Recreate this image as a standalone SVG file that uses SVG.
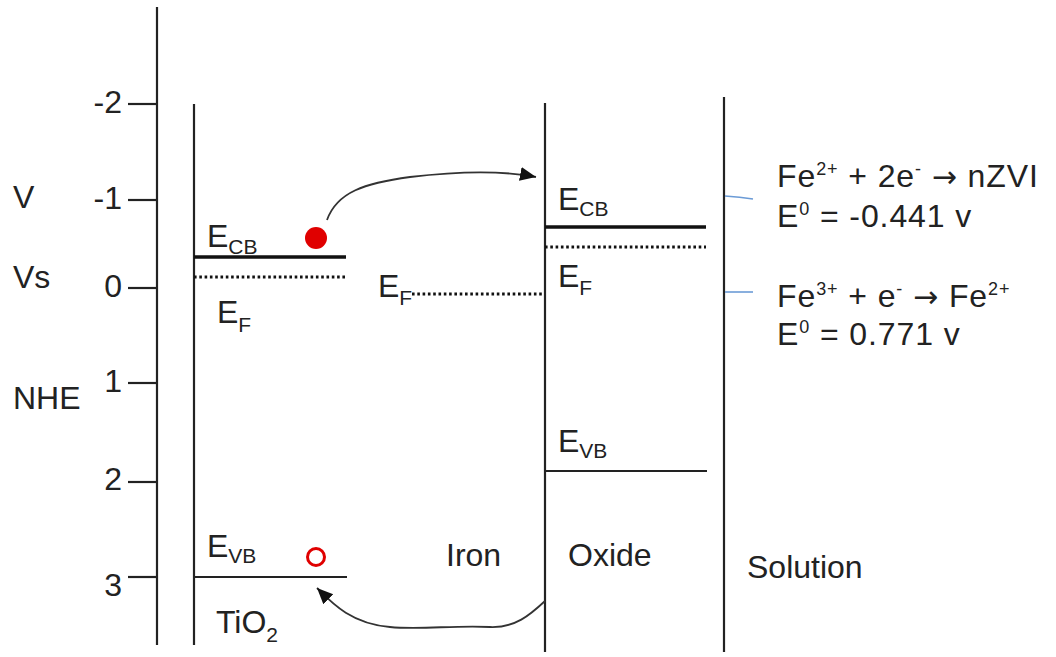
<svg xmlns="http://www.w3.org/2000/svg" width="1056" height="657" viewBox="0 0 1056 657">
<defs>
<style>
.t{font-family:"Liberation Sans",Arial,sans-serif;font-size:32px;fill:#222}
.eq{letter-spacing:0.9px}
.sub{font-size:21px}
.sup{font-size:18px}
.ar{font-family:"DejaVu Sans",sans-serif;font-size:30px}
.ln{stroke:#222;stroke-width:2.2;fill:none}
.band{stroke:#111;stroke-width:3.5;fill:none}
.dot{stroke:#111;stroke-width:3;stroke-dasharray:2.6 2.7;fill:none}
.blue{stroke:#6b9bd6;stroke-width:1.6;fill:none}
.arr{stroke:#333;stroke-width:1.8;fill:none;marker-end:url(#ah)}
</style>
<marker id="ah" markerUnits="userSpaceOnUse" markerWidth="18" markerHeight="16" refX="16" refY="7" orient="auto">
<path d="M0,0 L16,7 L0,14 z" fill="#111"/>
</marker>
</defs>
<rect width="1056" height="657" fill="#fff"/>
<g id="axis">
<line class="ln" x1="157" y1="7" x2="157" y2="645"/>
<line class="ln" x1="128" y1="104" x2="157" y2="104"/>
<line class="ln" x1="128" y1="200" x2="157" y2="200"/>
<line class="ln" x1="128" y1="288" x2="157" y2="288"/>
<line class="ln" x1="128" y1="383" x2="157" y2="383"/>
<line class="ln" x1="128" y1="482" x2="157" y2="482"/>
<line class="ln" x1="128" y1="577" x2="157" y2="577"/>
<text class="t" x="122" y="113" text-anchor="end">-2</text>
<text class="t" x="122" y="209" text-anchor="end">-1</text>
<text class="t" x="122" y="297" text-anchor="end">0</text>
<text class="t" x="122" y="392" text-anchor="end">1</text>
<text class="t" x="122" y="490" text-anchor="end">2</text>
<text class="t" x="122" y="596" text-anchor="end">3</text>
<text class="t" x="13" y="208">V</text>
<text class="t" x="13" y="288">Vs</text>
<text class="t" x="13" y="409">NHE</text>
</g>
<g id="tio2">
<line class="ln" x1="194" y1="104" x2="194" y2="645"/>
<line class="band" x1="194" y1="257" x2="346" y2="257"/>
<line class="dot" x1="194" y1="277" x2="346" y2="277"/>
<line class="ln" x1="194" y1="577" x2="347" y2="577"/>
<circle cx="316" cy="238" r="11" fill="#e00000"/>
<circle cx="316" cy="557" r="8.5" fill="none" stroke="#e00000" stroke-width="3"/>
<text class="t" x="207" y="247">E<tspan class="sub" dy="7">CB</tspan></text>
<text class="t" x="217" y="323">E<tspan class="sub" dy="9">F</tspan></text>
<text class="t" x="207" y="557">E<tspan class="sub" dy="6">VB</tspan></text>
<text class="t" x="216" y="633">TiO<tspan class="sub" dy="9">2</tspan></text>
</g>
<g id="iron">
<line class="dot" x1="412" y1="294" x2="543" y2="294"/>
<text class="t" x="378" y="297">E<tspan class="sub" dy="8">F</tspan></text>
<text class="t" x="446" y="566">Iron</text>
</g>
<g id="oxide">
<line class="ln" x1="545" y1="103" x2="545" y2="652"/>
<line class="band" x1="545" y1="227" x2="706" y2="227"/>
<line class="dot" x1="545" y1="247" x2="706" y2="247"/>
<line class="ln" x1="545" y1="471" x2="707" y2="471"/>
<text class="t" x="558" y="210">E<tspan class="sub" dy="6">CB</tspan></text>
<text class="t" x="558" y="287">E<tspan class="sub" dy="8">F</tspan></text>
<text class="t" x="558" y="452">E<tspan class="sub" dy="6">VB</tspan></text>
<text class="t" x="568" y="566">Oxide</text>
</g>
<g id="solution">
<line class="ln" x1="724" y1="97" x2="724" y2="652"/>
<path class="blue" d="M725,196 Q740,197 753,199"/>
<line class="blue" x1="725" y1="292" x2="753" y2="292"/>
<text class="t" x="747" y="578">Solution</text>
<text class="t eq" x="777" y="187">Fe<tspan class="sup" dy="-12">2+</tspan><tspan dy="12"> + 2e</tspan><tspan class="sup" dy="-12">-</tspan><tspan dy="12"> </tspan><tspan class="ar">→</tspan><tspan> nZVI</tspan></text>
<text class="t eq" x="777" y="227">E<tspan class="sup" dy="-12">0</tspan><tspan dy="12"> = -0.441  v</tspan></text>
<text class="t eq" x="777" y="307">Fe<tspan class="sup" dy="-12">3+</tspan><tspan dy="12"> + e</tspan><tspan class="sup" dy="-12">-</tspan><tspan dy="12"> </tspan><tspan class="ar">→</tspan><tspan> Fe</tspan><tspan class="sup" dy="-12">2+</tspan></text>
<text class="t eq" x="777" y="345">E<tspan class="sup" dy="-12">0</tspan><tspan dy="12"> = 0.771  v</tspan></text>
</g>
<g id="connectors">
<path class="arr" d="M327,220 C337,192 365,183 410,177 C460,171 505,171 536,177"/>
<path class="arr" d="M545,601 C530,615 515,628 490,627 C455,625 420,630 390,627 C350,624 330,601 317,588"/>
</g>
</svg>
